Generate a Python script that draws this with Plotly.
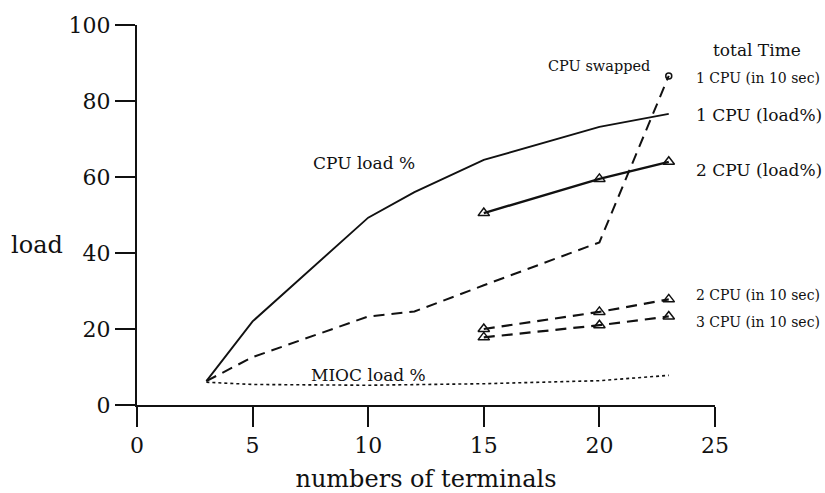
import plotly.graph_objects as go

# ---- data ----
terminals_cpu = [3, 5, 10, 12, 15, 20, 23]
cpu_load_1 = [6.3, 22, 49.3, 56, 64.5, 73.2, 76.6]

terminals_swap = [3, 5, 10, 12, 15, 20, 23]
cpu_swapped_1 = [6.3, 12.6, 23.3, 24.6, 31.5, 42.8, 86.6]

terminals_multi = [15, 20, 23]
cpu_load_2 = [50.5, 59.5, 64.0]
time_2cpu = [20.0, 24.5, 27.8]
time_3cpu = [17.8, 21.0, 23.3]

terminals_mioc = [3, 5, 10, 15, 20, 23]
mioc_load = [6.0, 5.4, 5.2, 5.6, 6.4, 7.8]

x_ticks = [0, 5, 10, 15, 20, 25]
y_ticks = [0, 20, 40, 60, 80, 100]

FONT = "DejaVu Serif"
BLACK = "#111111"

fig = go.Figure()

fig.add_trace(go.Scatter(x=terminals_mioc, y=mioc_load, mode="lines",
                         line=dict(color=BLACK, width=1.6, dash="dot"),
                         showlegend=False))
fig.add_trace(go.Scatter(x=terminals_cpu, y=cpu_load_1, mode="lines",
                         line=dict(color=BLACK, width=1.9),
                         showlegend=False))
fig.add_trace(go.Scatter(x=terminals_swap, y=cpu_swapped_1, mode="lines",
                         line=dict(color=BLACK, width=2, dash="11px,7px"),
                         showlegend=False))
fig.add_trace(go.Scatter(x=[terminals_swap[-1]], y=[cpu_swapped_1[-1]], mode="markers",
                         marker=dict(symbol="circle-open", size=6, color=BLACK,
                                     line=dict(width=1.5)),
                         showlegend=False))
fig.add_trace(go.Scatter(x=terminals_multi, y=cpu_load_2, mode="lines+markers",
                         line=dict(color=BLACK, width=2.4),
                         marker=dict(symbol="triangle-up-open", size=10, color=BLACK,
                                     line=dict(width=1.5)),
                         showlegend=False))
fig.add_trace(go.Scatter(x=terminals_multi, y=time_2cpu, mode="lines+markers",
                         line=dict(color=BLACK, width=2.2, dash="11px,7px"),
                         marker=dict(symbol="triangle-up-open", size=10, color=BLACK,
                                     line=dict(width=1.5)),
                         showlegend=False))
fig.add_trace(go.Scatter(x=terminals_multi, y=time_3cpu, mode="lines+markers",
                         line=dict(color=BLACK, width=2.2, dash="11px,7px"),
                         marker=dict(symbol="triangle-up-open", size=10, color=BLACK,
                                     line=dict(width=1.5)),
                         showlegend=False))

def ann(text, x, y, size, xanchor="center", ref="data"):
    kw = dict(xref="x", yref="y") if ref == "data" else dict(xref="paper", yref="paper")
    fig.add_annotation(text=text, x=x, y=y, showarrow=False,
                       xanchor=xanchor, yanchor="middle",
                       font=dict(family=FONT, size=size, color=BLACK), **kw)

ann("CPU load %", 9.8, 63.7, 17)
ann("CPU swapped", 20.0, 89.2, 14.5)
ann("MIOC load %", 10.0, 7.9, 17)
ann("1 CPU (in 10 sec)", 24.1, 86.0, 14, "left")
ann("1 CPU (load%)", 24.1, 76.3, 17, "left")
ann("2 CPU (load%)", 24.1, 61.8, 17, "left")
ann("2 CPU (in 10 sec)", 24.1, 29.0, 14, "left")
ann("3 CPU (in 10 sec)", 24.1, 21.9, 14, "left")

ann("total Time", 1.0727, 0.934, 17, "center", ref="paper")
ann("load", -0.173, 0.42, 24, "center", ref="paper")

fig.update_layout(
    width=825, height=493,
    margin=dict(l=137, r=110, t=25, b=88),
    paper_bgcolor="white", plot_bgcolor="white",
    font=dict(family=FONT, color=BLACK),
    xaxis=dict(range=[0, 25], tickvals=x_ticks, ticks="outside", ticklen=20,
               tickwidth=2, tickcolor=BLACK, showline=True, linewidth=2,
               linecolor=BLACK, showgrid=False, zeroline=False, automargin=False,
               tickfont=dict(family=FONT, size=22, color=BLACK),
               title=dict(text="numbers of terminals", standoff=14,
                          font=dict(family=FONT, size=24, color=BLACK))),
    yaxis=dict(range=[0, 100], tickvals=y_ticks, ticks="outside", ticklen=20,
               tickwidth=2, tickcolor=BLACK, showline=True, linewidth=2,
               linecolor=BLACK, showgrid=False, zeroline=False, automargin=False,
               tickfont=dict(family=FONT, size=22, color=BLACK)),
)

fig.write_html("out.html")
